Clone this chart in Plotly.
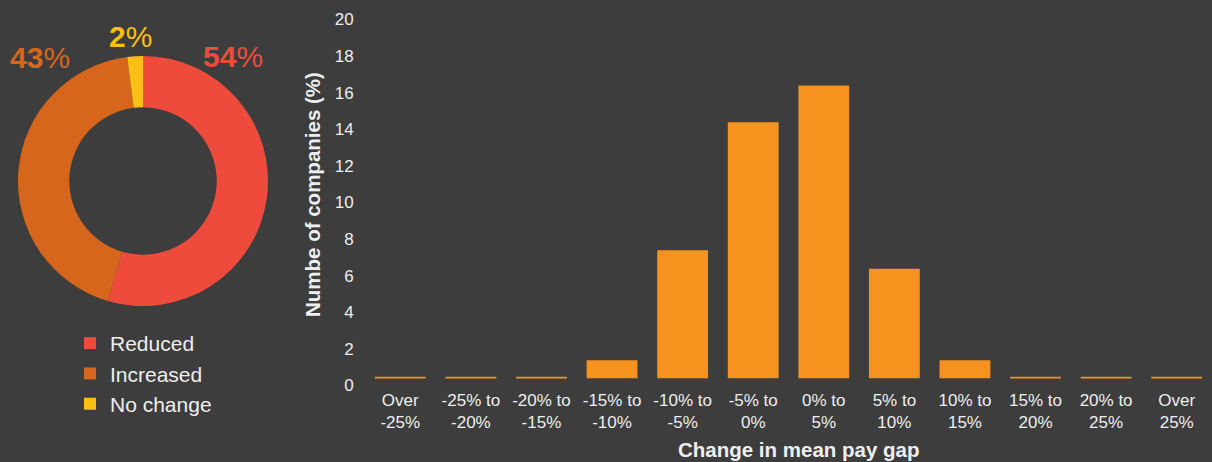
import plotly.graph_objects as go

# Data
pie_labels = ["Reduced", "Increased", "No change"]
pie_values = [54, 43, 2]
pie_colors = ["#EF4B3C", "#D5661C", "#FCBF13"]

categories = ["Over<br>-25%", "-25% to<br>-20%", "-20% to<br>-15%", "-15% to<br>-10%",
              "-10% to<br>-5%", "-5% to<br>0%", "0% to<br>5%", "5% to<br>10%",
              "10% to<br>15%", "15% to<br>20%", "20% to<br>25%", "Over<br>25%"]
bar_values = [0.1, 0.1, 0.1, 1.0, 7.0, 14.0, 16.0, 6.0, 1.0, 0.1, 0.1, 0.1]
y_ticks = [0, 2, 4, 6, 8, 10, 12, 14, 16, 18, 20]

BG = "#3D3D3D"
TXT = "#EEEEEE"
FONT = "Liberation Sans, Arial, sans-serif"
W, H = 1212, 462

fig = go.Figure()

fig.add_trace(go.Pie(
    labels=pie_labels, values=pie_values,
    marker=dict(colors=pie_colors, line=dict(width=0)),
    hole=0.59, sort=False, direction="clockwise", rotation=0,
    textinfo="none", hoverinfo="label+percent",
    domain=dict(x=[18 / W, 268 / W], y=[(H - 306) / H, (H - 56) / H]),
    showlegend=True,
))

fig.add_trace(go.Bar(
    x=categories, y=bar_values, marker=dict(color="#F7921E", line=dict(width=0)),
    showlegend=False, xaxis="x", yaxis="y",
))

fig.update_layout(
    width=W, height=H,
    paper_bgcolor=BG, plot_bgcolor=BG,
    margin=dict(l=0, r=0, t=0, b=0, autoexpand=False),
    font=dict(family=FONT, color=TXT, size=16),
    bargap=0.28,
    xaxis=dict(domain=[365 / W, 1.0], showgrid=False, zeroline=False, showline=False,
               ticks="outside", ticklen=6, tickcolor=BG, automargin=False,
               tickfont=dict(size=17, color=TXT), fixedrange=True),
    yaxis=dict(domain=[(H - 378.5) / H, (H - 12) / H], range=[0, 20.02],
               tickvals=y_ticks, showgrid=False, zeroline=False, showline=False,
               ticks="outside", ticklen=7, tickcolor=BG, automargin=False,
               tickfont=dict(size=17, color=TXT), ticklabelshift=7),
    legend=dict(x=70 / W, y=(H - 323) / H, xanchor="left", yanchor="top",
                font=dict(size=21, color=TXT), bgcolor="rgba(0,0,0,0)",
                itemsizing="constant"),
    annotations=[
        dict(text="<b>Numbe of companies (%)</b>", x=312 / W, y=(H - 195) / H,
             xref="paper", yref="paper", showarrow=False, textangle=-90,
             font=dict(size=20.5, color=TXT), xanchor="center", yanchor="middle"),
        dict(text="<b>Change in mean pay gap</b>", x=799 / W, y=(H - 449) / H,
             xref="paper", yref="paper", showarrow=False,
             font=dict(size=20.5, color=TXT), xanchor="center", yanchor="middle"),
        dict(text="<b>54</b>%", x=233 / W, y=(H - 56) / H, xref="paper", yref="paper",
             showarrow=False, font=dict(size=30, color=pie_colors[0]),
             xanchor="center", yanchor="middle"),
        dict(text="<b>43</b>%", x=40 / W, y=(H - 58) / H, xref="paper", yref="paper",
             showarrow=False, font=dict(size=30, color=pie_colors[1]),
             xanchor="center", yanchor="middle"),
        dict(text="<b>2</b>%", x=130 / W, y=(H - 36) / H, xref="paper", yref="paper",
             showarrow=False, font=dict(size=30, color=pie_colors[2]),
             xanchor="center", yanchor="middle"),
    ],
)

fig.write_html("out.html", config=dict(displayModeBar=False),
               post_script="document.body.style.margin='0';document.body.style.background='#3D3D3D';")
